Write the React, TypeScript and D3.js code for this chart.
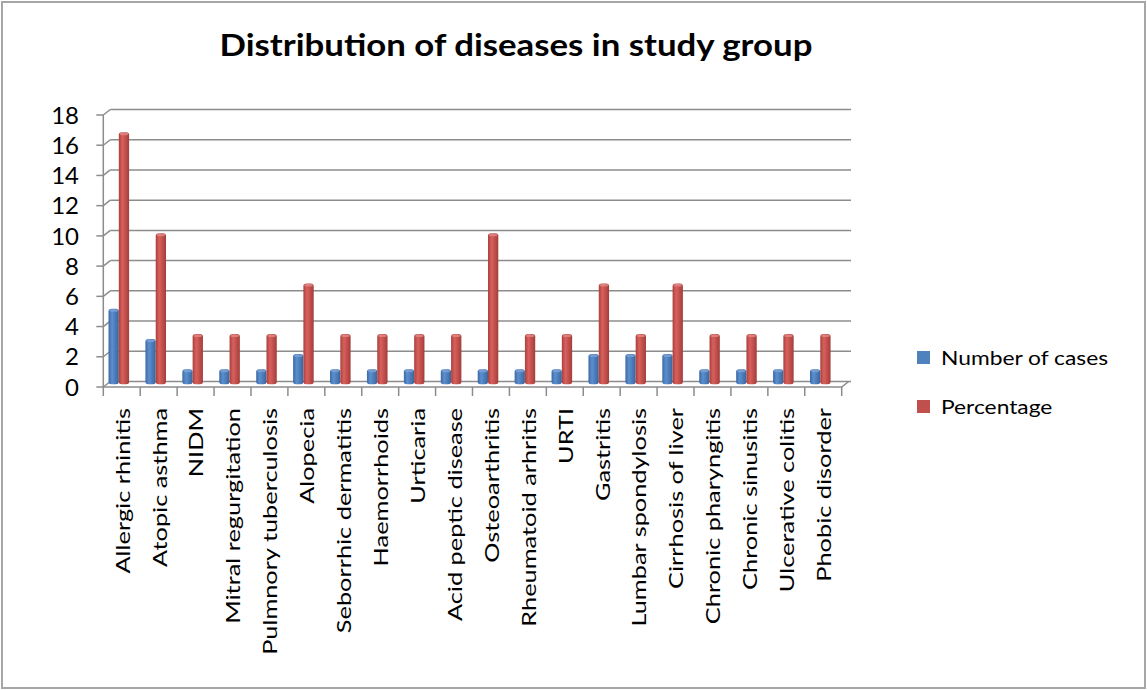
import React from 'react';
import * as d3 from 'd3';

const categories = [
  'Allergic rhinitis', 'Atopic asthma', 'NIDM', 'Mitral regurgitation', 'Pulmnory tuberculosis',
  'Alopecia', 'Seborrhic dermatitis', 'Haemorrhoids', 'Urticaria', 'Acid peptic disease',
  'Osteoarthritis', 'Rheumatoid arhritis', 'URTI', 'Gastritis', 'Lumbar spondylosis',
  'Cirrhosis of liver', 'Chronic pharyngitis', 'Chronic sinusitis', 'Ulcerative colitis', 'Phobic disorder',
];
const cases = [5, 3, 1, 1, 1, 2, 1, 1, 1, 1, 1, 1, 1, 2, 2, 2, 1, 1, 1, 1];
const percentage = [16.67, 10, 3.33, 3.33, 3.33, 6.67, 3.33, 3.33, 3.33, 3.33, 10, 3.33, 3.33, 6.67, 3.33, 6.67, 3.33, 3.33, 3.33, 3.33];
const seriesNames = ['Number of cases', 'Percentage'];
const yTicks = [0, 2, 4, 6, 8, 10, 12, 14, 16, 18];

const W = 1147, H = 690;
const font = 'Lato, "Open Sans", sans-serif';
// depth offset of the 3d floor (back wall is up-right of the front axis)
const DX = 7, DY = -5.5;

const App = () => {
  const x = d3.scaleBand<string>().domain(categories).range([103.3, 841.7]).paddingInner(0).paddingOuter(0);
  const yFront = d3.scaleLinear().domain([0, 18]).range([387, 115]);
  const yMid = d3.scaleLinear().domain([0, 18]).range([387 + DY / 2, 115 + DY / 2]);
  const yBack = d3.scaleLinear().domain([0, 18]).range([387 + DY, 115 + DY]);
  const inner = d3.scaleBand<string>().domain(seriesNames).range([0, 20.6]);
  const colors = ['#4f81bd', '#c0504d'];
  const series = [cases, percentage];
  const x0 = 103.3, x1 = 841.7;
  const grid = '#8c8c8c';

  return (
    <svg width={W} height={H} style={{ position: 'absolute', left: 0, top: 0, background: '#fff' }}>
      <defs>
        <linearGradient id="g0" x1="0" x2="1" y1="0" y2="0">
          <stop offset="0" stopColor="#3c6aa3" />
          <stop offset="0.35" stopColor="#5b8fd0" />
          <stop offset="1" stopColor="#3a659c" />
        </linearGradient>
        <linearGradient id="g1" x1="0" x2="1" y1="0" y2="0">
          <stop offset="0" stopColor="#a8403d" />
          <stop offset="0.35" stopColor="#d9605c" />
          <stop offset="1" stopColor="#a43d3a" />
        </linearGradient>
      </defs>
      <rect x={2} y={2} width={1143} height={686} fill="none" stroke="#a6a6a6" strokeWidth={2} />
      <text transform="translate(516,56) scale(1.16,1)" textAnchor="middle" fontFamily={font} fontWeight="bold" fontSize={30} fill="#000">
        Distribution of diseases in study group
      </text>

      {/* back wall gridlines and left wall */}
      {yTicks.map(t => (
        <g key={t}>
          <line x1={x0 + DX} x2={851} y1={yBack(t)} y2={yBack(t)} stroke={grid} strokeWidth={1.5} />
          <line x1={x0} x2={x0 + DX} y1={yFront(t)} y2={yBack(t)} stroke={grid} strokeWidth={1.5} />
          <line x1={x0 - 7} x2={x0} y1={yFront(t)} y2={yFront(t)} stroke={grid} strokeWidth={1.5} />
          <text x={79} y={yFront(t)} dy="0.36em" textAnchor="end" fontFamily={font} fontSize={24} fill="#000">{t}</text>
        </g>
      ))}
      <line x1={x0} x2={x0} y1={yFront(18)} y2={yFront(0)} stroke={grid} strokeWidth={1.5} />
      {/* floor */}
      <path d={`M${x0},${yFront(0)}L${x1},${yFront(0)}L${x1 + DX},${yBack(0)}`} fill="none" stroke={grid} strokeWidth={1.5} />

      {/* bars */}
      {categories.map((c, i) => (
        <g key={c}>
          {series.map((s, k) => {
            const bx = (x(c) as number) + 5.2 + (inner(seriesNames[k]) as number);
            const bw = inner.bandwidth();
            const top = yMid(s[i]);
            const bottom = yMid(0);
            return (
              <g key={k}>
                <rect x={bx} y={top} width={bw} height={bottom - top} rx={3} ry={2.5} fill={`url(#g${k})`} />
                <rect x={bx + 1} y={top + 0.5} width={bw - 2} height={2.5} rx={1.5} fill={k === 0 ? '#7ea3d6' : '#e08a87'} opacity={0.8} />
              </g>
            );
          })}
        </g>
      ))}

      {/* x axis ticks */}
      {d3.range(categories.length + 1).map(i => {
        const tx = x0 + i * x.bandwidth();
        return <line key={i} x1={tx} x2={tx} y1={yFront(0)} y2={yFront(0) + 9} stroke={grid} strokeWidth={1.5} />;
      })}
      {categories.map(c => {
        const cx = (x(c) as number) + x.bandwidth() / 2 + 1;
        return (
          <text key={c} transform={`translate(${cx},408) rotate(-90) scale(1.3,1)`} dy="0.35em" textAnchor="end"
            fontFamily={font} fontSize={19.5} fill="#000">{c}</text>
        );
      })}

      {/* legend */}
      {seriesNames.map((n, k) => (
        <g key={n} transform={`translate(917,${351 + k * 49})`}>
          <rect x={0} y={0} width={13} height={13} fill={colors[k]} />
          <text transform="translate(24,14) scale(1.2,1)" fontFamily={font} fontSize={19} fill="#000">{n}</text>
        </g>
      ))}
    </svg>
  );
};

export default App;
